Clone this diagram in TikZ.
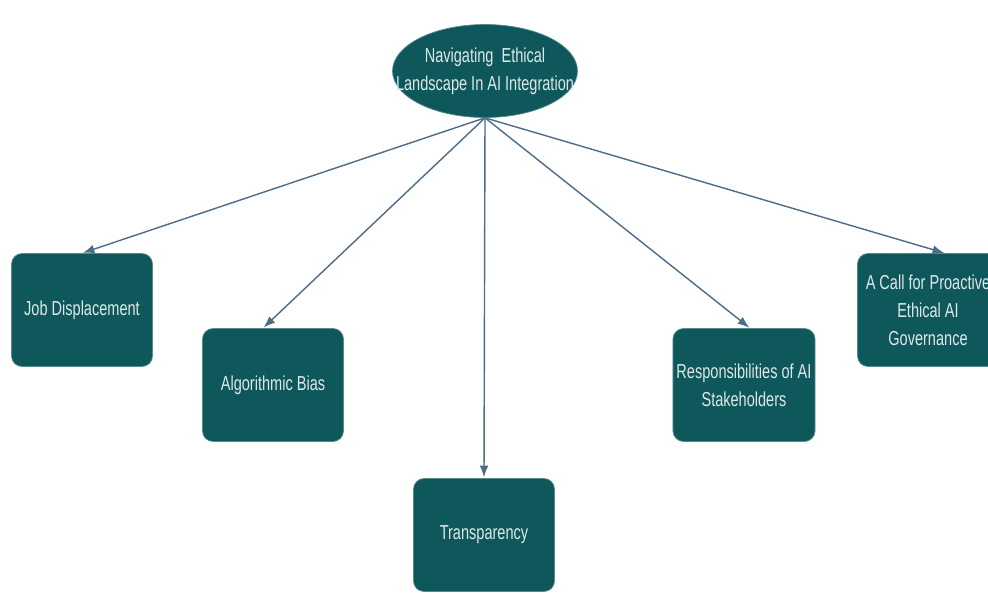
\documentclass[tikz,border=0pt]{standalone}
\usepackage{fontspec}
\setmainfont[FakeStretch=0.72]{Liberation Sans}
\usetikzlibrary{arrows.meta,shapes.geometric}
\definecolor{tealbox}{HTML}{0E585C}
\definecolor{boxtext}{HTML}{DCE8E8}
\definecolor{linkcol}{HTML}{4C6C88}

\begin{document}
\begin{tikzpicture}[>=Latex,x={(0.02cm,0cm)},y={(0cm,-0.02cm)},
  topic/.style={rectangle,rounded corners=6pt,fill=tealbox,draw=tealbox!70!white,line width=0.4pt,
    text=boxtext,font=\fontsize{11.5}{16}\selectfont,align=center,
    minimum width=2.82cm,minimum height=2.26cm,inner sep=2pt},
  hub/.style={ellipse,fill=tealbox,draw=tealbox!70!white,
    minimum width=3.7cm,minimum height=1.86cm,inner sep=0pt},
  hubtext/.style={text=boxtext,font=\fontsize{11.5}{16}\selectfont,align=center,inner sep=0pt},
  link/.style={->,linkcol,line width=0.8pt,shorten >=0.5pt}]
  \useasboundingbox (0,0) rectangle (988,593);
  % central question (ellipse kept at fixed size, text set on top)
  \node[hub] (ethics) at (485,71) {};
  \node[hubtext] (ethicstext) at (ethics.center) {Navigating\ \ Ethical\\Landscape In AI Integration};
  % the five themes
  \node[topic] (job)   at (82,310)  {Job Displacement};
  \node[topic] (bias)  at (273,385) {Algorithmic Bias};
  \node[topic] (trans) at (484,535) {Transparency};
  \node[topic] (resp)  at (744,385) {Responsibilities of AI\\Stakeholders};
  \node[topic] (call)  at (928,310) {A Call for Proactive\\Ethical AI\\Governance};
  % links from the hub
  \draw[link] (ethics.south) -- (job.north);
  \draw[link] (ethics.south) -- ([xshift=-0.2cm]bias.north);
  \draw[link] (ethics.south) -- (trans.north);
  \draw[link] (ethics.south) -- ([xshift=0.12cm]resp.north);
  \draw[link] (ethics.south) -- ([xshift=0.34cm]call.north);
\end{tikzpicture}
\end{document}
